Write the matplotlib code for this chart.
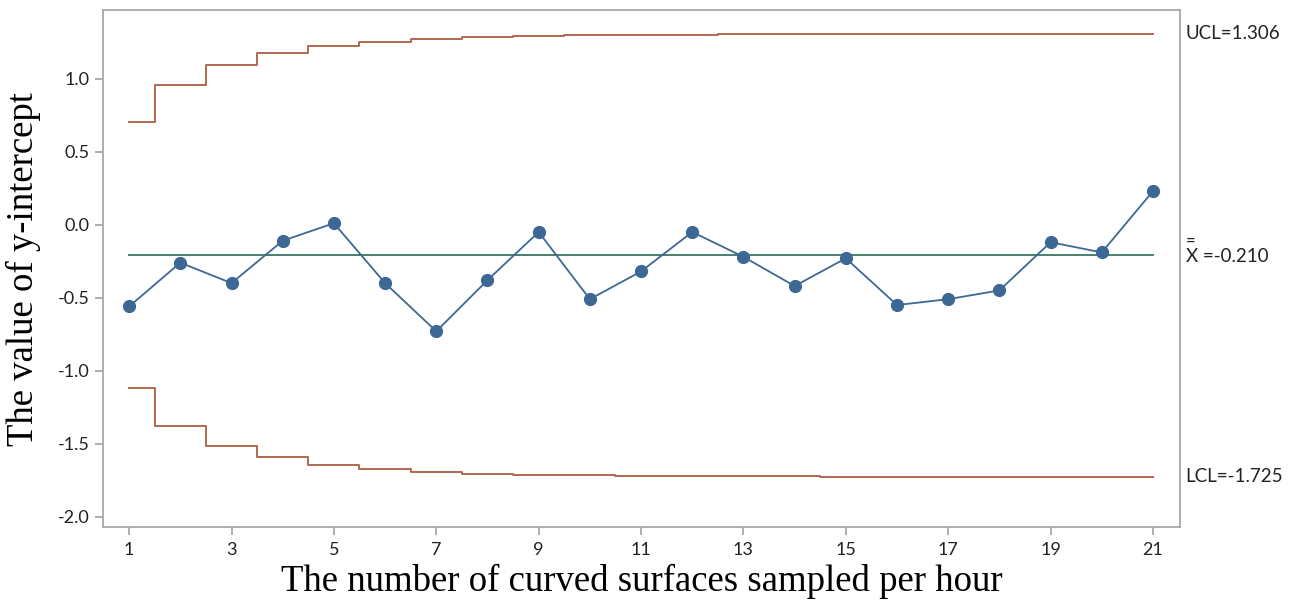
import matplotlib
matplotlib.use("Agg")
import matplotlib.pyplot as plt

# subgroup numbers and EWMA values
samples = list(range(1, 22))
ewma = [-0.56, -0.26, -0.40, -0.11, 0.01, -0.40, -0.73, -0.38, -0.05, -0.51, -0.32,
        -0.05, -0.22, -0.42, -0.23, -0.55, -0.51, -0.45, -0.12, -0.19, 0.23]
ucl = [0.700, 0.955, 1.092, 1.173, 1.222, 1.253, 1.272, 1.285, 1.292, 1.297, 1.300,
       1.302, 1.304, 1.305, 1.305, 1.306, 1.306, 1.306, 1.306, 1.306, 1.306]
lcl = [-1.119, -1.375, -1.512, -1.593, -1.642, -1.673, -1.692, -1.705, -1.712, -1.717, -1.720,
       -1.722, -1.724, -1.724, -1.725, -1.725, -1.725, -1.725, -1.725, -1.725, -1.725]
center = -0.210
xticks = [1, 3, 5, 7, 9, 11, 13, 15, 17, 19, 21]
yticks = [-2.0, -1.5, -1.0, -0.5, 0.0, 0.5, 1.0]

sans = ["Lato", "DejaVu Sans"]
serif = "Liberation Serif"
grey = "#a8a8a8"
ink = "#222222"

fig = plt.figure(figsize=(13.04, 6.09), dpi=100)
ax = fig.add_axes([0.079, 0.1346, 0.826, 0.849])

ax.plot(samples, ucl, drawstyle="steps-mid", color="#b06850", lw=1.4)
ax.plot(samples, lcl, drawstyle="steps-mid", color="#b06850", lw=1.4)
ax.plot([1, 21], [center, center], color="#4a7f6e", lw=1.4, zorder=1)
ax.plot(samples, ewma, color="#3d6896", lw=1.3, marker="o", ms=8.5)

ax.set_xlim(0.49, 21.53)
ax.set_ylim(-2.07, 1.47)
ax.set_xticks(xticks)
ax.set_yticks(yticks)
ax.set_yticklabels([f"{v:.1f}" for v in yticks])
for lab in ax.get_xticklabels() + ax.get_yticklabels():
    lab.set_family(sans)
    lab.set_fontsize(13)
    lab.set_color(ink)
ax.tick_params(color=grey, length=6, width=1.3)
ax.tick_params(axis="x", pad=5)
for s in ax.spines.values():
    s.set_color(grey)
    s.set_linewidth(1.3)

ax.set_xlabel("The number of curved surfaces sampled per hour", family=serif, fontsize=26.5, labelpad=4)
ax.set_ylabel("The value of y-intercept", family=serif, fontsize=26.5, labelpad=12)

tr = ax.get_yaxis_transform()
tx = 1.005
ax.text(tx, ucl[-1], "UCL=1.306", transform=tr, family=sans, fontsize=13.5, va="center", ha="left", color=ink)
ax.text(tx, lcl[-1], "LCL=-1.725", transform=tr, family=sans, fontsize=13.5, va="center", ha="left", color=ink)
ax.annotate("X =-0.210", xy=(tx, center), xycoords=tr, xytext=(0, -1), textcoords="offset points",
            family=sans, fontsize=13.5, va="center", ha="left", color=ink)
# double bar over the X
ax.annotate("=", xy=(tx, center), xycoords=tr, xytext=(4, 5), textcoords="offset points",
            family=sans, fontsize=12, ha="center", va="bottom", color=ink)

fig.savefig("out.png", dpi=100)
